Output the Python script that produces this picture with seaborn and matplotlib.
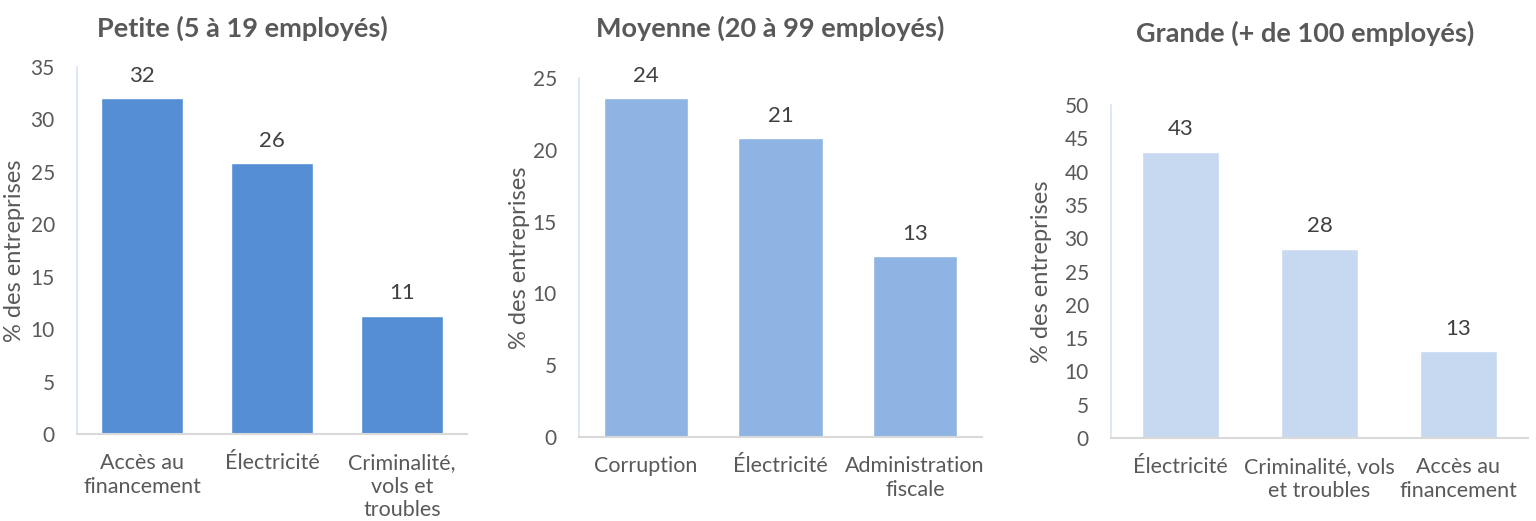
import matplotlib
matplotlib.use("Agg")
import matplotlib.pyplot as plt
import seaborn as sns

# ---- data ----
titles = ["Petite (5 à 19 employés)", "Moyenne (20 à 99 employés)", "Grande (+ de 100 employés)"]
cats_petite = ["Accès au\nfinancement", "Électricité", "Criminalité,\nvols et\ntroubles"]
vals_petite = [32.0, 25.8, 11.3]
cats_moyenne = ["Corruption", "Électricité", "Administration\nfiscale"]
vals_moyenne = [23.6, 20.8, 12.6]
cats_grande = ["Électricité", "Criminalité, vols\net troubles", "Accès au\nfinancement"]
vals_grande = [43.0, 28.4, 13.0]
labels_petite = ["32", "26", "11"]
labels_moyenne = ["24", "21", "13"]
labels_grande = ["43", "28", "13"]
ylabel = "% des entreprises"

sns.set_theme(style="white")
plt.rcParams['font.family'] = ['Lato', 'DejaVu Sans']

fig = plt.figure(figsize=(15.36, 5.21), dpi=100)

W, H = 1536, 521
specs = [
    (77, 467, 434, 67, 35, "#558ED5", 0.63, cats_petite, vals_petite, labels_petite, -0.133, 242, 28),
    (579, 982, 437, 78, 25, "#8EB4E3", 0.63, cats_moyenne, vals_moyenne, labels_moyenne, -0.122, 770, 28),
    (1111, 1528, 438, 105, 50, "#C6D9F1", 0.55, cats_grande, vals_grande, labels_grande, -0.141, 1305, 33),
]

for i, (l, r, b, t, ymax, col, bw, cats, vals, labs, ylx, tx, ty) in enumerate(specs):
    ax = fig.add_axes([l / W, (H - b) / H, (r - l) / W, (b - t) / H])
    sns.barplot(x=cats, y=vals, color=col, saturation=1, width=bw, ax=ax)
    ax.set_ylim(0, ymax)
    ax.set_xlim(-0.5, 2.5)
    ax.set_yticks(range(0, ymax + 1, 5))
    ax.tick_params(axis='y', labelsize=15, colors="#595959", length=0, pad=16)
    ax.tick_params(axis='x', labelsize=15.5, colors="#595959", length=0, pad=14)
    for lbl in ax.get_xticklabels():
        lbl.set_linespacing(1.2)
    for s in ["top", "right"]:
        ax.spines[s].set_visible(False)
    ax.spines["left"].set_color("#D9E3F0")
    ax.spines["bottom"].set_color("#D9D9D9")
    ax.spines["left"].set_linewidth(1.2)
    ax.spines["bottom"].set_linewidth(1.5)
    ax.set_ylabel(ylabel, fontsize=17, color="#595959")
    ax.yaxis.set_label_coords(ylx, 0.5)
    ax.set_xlabel("")
    for j, (v, s) in enumerate(zip(vals, labs)):
        ax.annotate(s, (j, v), xytext=(0, 9), textcoords="offset points",
                    ha="center", va="bottom", fontsize=16, color="#404040")
    fig.text(tx / W, 1 - ty / H, titles[i], ha="center", va="center",
             fontsize=19.5, fontweight="bold", color="#595959")

fig.savefig("out.png", dpi=100)
